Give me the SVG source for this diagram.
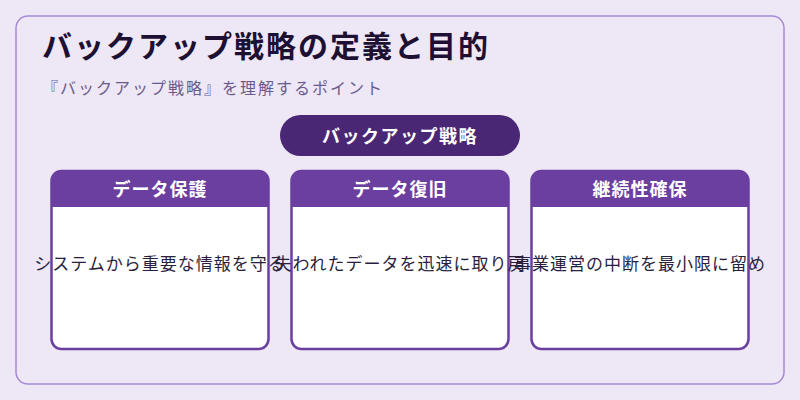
<svg xmlns="http://www.w3.org/2000/svg" width="800" height="400" viewBox="0 0 800 400">
  <style>
    text { font-family: "Noto Sans CJK JP", "Noto Sans", sans-serif; }
    .title { font-size: 30px; font-weight: 700; fill: #1e1033; letter-spacing: 2px; }
    .sub { font-size: 16px; fill: #6b5b8a; letter-spacing: 2px; }
    .pill { fill: #4a2775; }
    .pilltext { font-size: 18px; font-weight: 700; fill: #ffffff; letter-spacing: 1.5px; text-anchor: middle; }
    .card { fill: #ffffff; stroke: #6b3fa0; stroke-width: 2.5; }
    .head { fill: #6b3fa0; }
    .headtext { font-size: 18px; font-weight: 700; fill: #ffffff; letter-spacing: 1px; text-anchor: middle; }
    .body { font-size: 17px; fill: #2a1f3d; letter-spacing: 1px; text-anchor: middle; }
  </style>
  <rect x="0" y="0" width="800" height="400" fill="#ede7f6"/>
  <rect x="16" y="16" width="768" height="368" rx="12" fill="#ede7f6" stroke="#a48ad6" stroke-width="1.5"/>
  <text class="title" x="42" y="57">バックアップ戦略の定義と目的</text>
  <text class="sub" x="42" y="94">『バックアップ戦略』を理解するポイント</text>
  <g id="root">
    <rect class="pill" x="280" y="115" width="240" height="41" rx="20.5"/>
    <text class="pilltext" x="400" y="143">バックアップ戦略</text>
  </g>
  <g id="connectors"></g>
  <g id="card-protect">
    <rect class="card" x="51.5" y="171" width="217" height="178" rx="10"/>
    <path class="head" d="M51.5 207 V181 A10 10 0 0 1 61.5 171 H258.5 A10 10 0 0 1 268.5 181 V207 Z"/>
    <text class="headtext" x="160" y="196">データ保護</text>
    <text class="body" x="160" y="270">システムから重要な情報を守る</text>
  </g>
  <g id="card-recover">
    <rect class="card" x="291.5" y="171" width="217" height="178" rx="10"/>
    <path class="head" d="M291.5 207 V181 A10 10 0 0 1 301.5 171 H498.5 A10 10 0 0 1 508.5 181 V207 Z"/>
    <text class="headtext" x="400" y="196">データ復旧</text>
    <text class="body" x="400" y="270">失われたデータを迅速に取り戻</text>
  </g>
  <g id="card-continuity">
    <rect class="card" x="531.5" y="171" width="217" height="178" rx="10"/>
    <path class="head" d="M531.5 207 V181 A10 10 0 0 1 541.5 171 H738.5 A10 10 0 0 1 748.5 181 V207 Z"/>
    <text class="headtext" x="640" y="196">継続性確保</text>
    <text class="body" x="640" y="270">事業運営の中断を最小限に留め</text>
  </g>
</svg>
